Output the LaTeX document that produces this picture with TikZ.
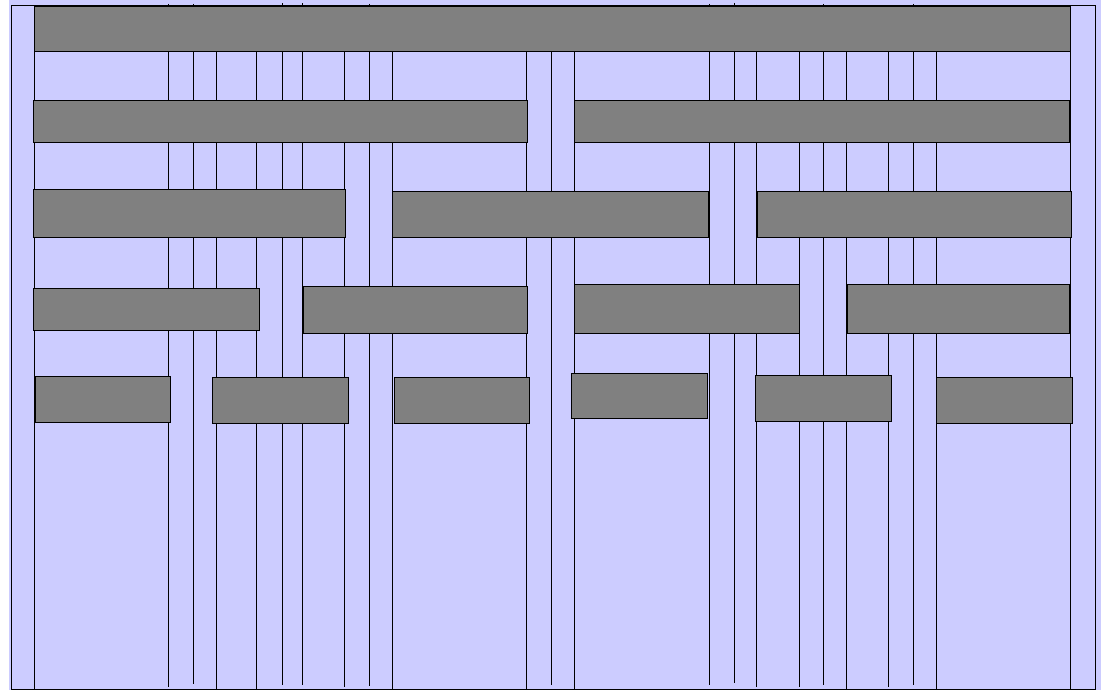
\documentclass[tikz,border=0pt]{standalone}
\usepackage{tikz}
\definecolor{lav}{HTML}{CCCCFF}
\definecolor{boxgray}{HTML}{808080}
\tikzset{
  boxst/.style={rectangle, draw=black, fill=boxgray, line width=0.9pt, inner sep=0pt, outer sep=0pt, anchor=north west},
  vline/.style={draw=black, line width=0.9pt},
  frame/.style={draw=black, line width=0.9pt}
}
\newcommand{\mybox}[5]{\node[boxst, minimum width={(#4-#2)*1pt}, minimum height={(#5-#3)*1pt}] (#1) at (#2,#3) {};}
\begin{document}
\begin{tikzpicture}[x=1pt,y=-1pt]
\useasboundingbox (0,0) rectangle (1101,690);
\fill[lav] (9,0) rectangle (1101,690);
\draw[frame] (11.3,5.7) rectangle (1095.7,689.2);
% vertical lines
\foreach \x/\a/\b in {34/6/689, 168.3/4/687, 193.3/4/684, 216.3/6/689, 256/6/689, 282.7/3.5/684.7, 302/3.5/684.7, 344.7/6/686.7, 369.7/4/685.7, 392.7/6/689, 526.7/6/689, 551/6/685, 574/6/689, 709/4/684.7, 734/3/683, 756.5/5/686.7, 799.3/6/686.7, 823.3/4/685, 846.7/6/689, 888.7/6/686.7, 913.3/4/685, 936.3/6/689, 1070.7/6/689}
  \draw[vline] (\x,\a) -- (\x,\b);
% boxes
\mybox{r0}{34.5}{6.7}{1070.7}{51.3}
\mybox{r1a}{33.3}{100.7}{527.3}{142.7}
\mybox{r1b}{574}{100.7}{1069.7}{142.7}
\mybox{r2a}{33.3}{189}{345}{237}
\mybox{r2b}{392.7}{191}{708.7}{237}
\mybox{r2c}{757.3}{191}{1071.3}{237}
\mybox{r3a}{33.3}{288.3}{259.3}{330.3}
\mybox{r3b}{303.3}{286.3}{527.3}{333}
\mybox{r3c}{574}{284.3}{799.3}{333}
\mybox{r3d}{847}{284.3}{1069.7}{333}
\mybox{r4a}{35.3}{376}{170.7}{422.7}
\mybox{r4b}{212.3}{377.3}{348.3}{423.3}
\mybox{r4c}{394}{377.3}{529.7}{423.3}
\mybox{r4d}{571.3}{373.3}{707.3}{418.7}
\mybox{r4e}{755.3}{375.3}{891}{421.3}
\mybox{r4f}{936.3}{377.3}{1072.3}{423.3}
\end{tikzpicture}
\end{document}
